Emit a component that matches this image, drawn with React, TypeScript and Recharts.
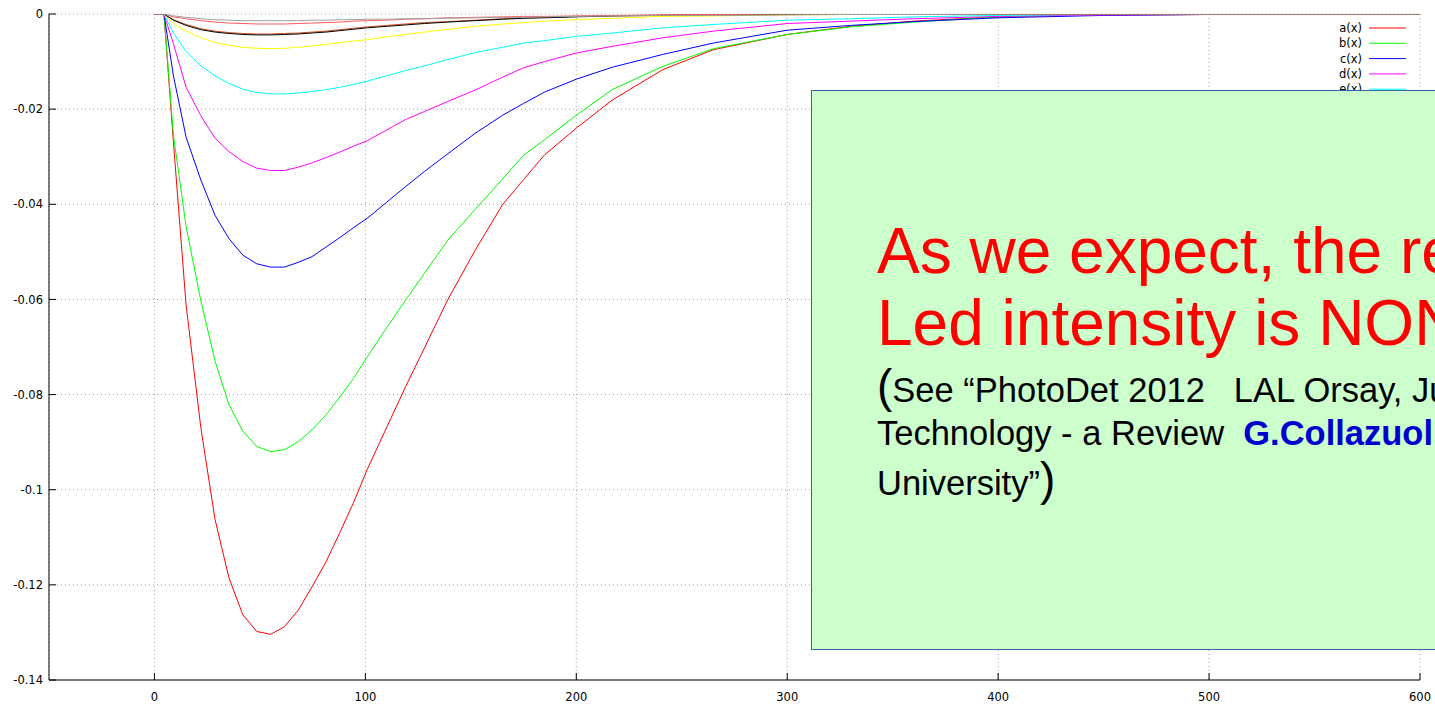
import React from 'react';
import { LineChart, Line, XAxis, YAxis, CartesianGrid } from 'recharts';

const W = 1435;
const H = 705;

// sample abscissae shared by every curve
const xs = [0, 4.5, 9, 15, 22, 28.7, 35.3, 41.9, 48.5, 55, 61.6, 68.2, 74.7, 81.3, 87.9, 94.4, 101, 110, 119, 128, 139, 152, 165, 175, 185, 200, 217, 241, 265, 300, 330, 360, 400, 450, 500, 550, 600];

const aVals = [0, 0, -0.027, -0.0612, -0.087, -0.1062, -0.1185, -0.1263, -0.1298, -0.1304, -0.1288, -0.1253, -0.1204, -0.1152, -0.109, -0.1027, -0.0956, -0.087, -0.0784, -0.0702, -0.0601, -0.0497, -0.0401, -0.0348, -0.0296, -0.024, -0.0181, -0.0117, -0.0075, -0.0043, -0.0026, -0.0015, -0.0006, -0.0002, -0.0001, 0, 0];
const bVals = [0, 0, -0.0255, -0.0447, -0.0603, -0.0729, -0.0821, -0.0877, -0.0909, -0.092, -0.0916, -0.0899, -0.0874, -0.0843, -0.0805, -0.0766, -0.072, -0.066, -0.0602, -0.0545, -0.0476, -0.0411, -0.0347, -0.0297, -0.0264, -0.0213, -0.0159, -0.011, -0.0073, -0.0043, -0.0027, -0.0017, -0.0006, -0.0002, -0.0001, 0, 0];
const cVals = [0, 0, -0.013, -0.0259, -0.0349, -0.0423, -0.0472, -0.0507, -0.0525, -0.0532, -0.0532, -0.0522, -0.051, -0.049, -0.047, -0.0449, -0.0429, -0.0396, -0.0363, -0.0331, -0.0294, -0.0251, -0.0213, -0.0188, -0.0164, -0.0137, -0.0112, -0.0085, -0.0061, -0.0034, -0.0024, -0.0016, -0.0008, -0.0003, -0.0001, 0, 0];
const dVals = [0, 0, -0.0063, -0.0154, -0.0214, -0.0261, -0.0289, -0.031, -0.0324, -0.0329, -0.0329, -0.0322, -0.0313, -0.0302, -0.029, -0.0278, -0.0266, -0.0244, -0.0222, -0.0205, -0.0184, -0.016, -0.0133, -0.0113, -0.01, -0.0082, -0.0068, -0.005, -0.0036, -0.002, -0.0015, -0.001, -0.0005, -0.0002, -0.0001, 0, 0];
const eVals = [0, 0, -0.004, -0.0079, -0.0109, -0.013, -0.0146, -0.0158, -0.0165, -0.0168, -0.0168, -0.0166, -0.0163, -0.0159, -0.0154, -0.0148, -0.0141, -0.013, -0.0119, -0.0109, -0.0096, -0.0081, -0.007, -0.0061, -0.0056, -0.0047, -0.004, -0.0029, -0.0022, -0.0013, -0.001, -0.0006, -0.0003, -0.0001, 0, 0, 0];
const fVals = [0, 0, -0.002, -0.0036, -0.005, -0.006, -0.0066, -0.007, -0.0072, -0.0073, -0.0072, -0.007, -0.0067, -0.0064, -0.006, -0.0057, -0.0054, -0.0048, -0.0043, -0.0038, -0.0032, -0.0026, -0.0021, -0.0018, -0.0015, -0.0012, -0.0009, -0.0005, -0.0004, -0.0002, -0.0001, 0, 0, 0, 0, 0, 0];
const gVals = [0, 0, -0.0012, -0.0022, -0.0031, -0.0036, -0.0039, -0.0041, -0.0042, -0.0042, -0.0041, -0.004, -0.0038, -0.0036, -0.0033, -0.003, -0.0027, -0.0024, -0.0021, -0.0018, -0.0016, -0.0013, -0.001, -0.0008, -0.0007, -0.0005, -0.0004, -0.0002, -0.0001, 0, 0, 0, 0, 0, 0, 0, 0];
const hVals = [0, 0, -0.0013, -0.0024, -0.0033, -0.0038, -0.0041, -0.0043, -0.0044, -0.0044, -0.0043, -0.0042, -0.004, -0.0038, -0.0035, -0.0032, -0.0029, -0.0026, -0.0023, -0.002, -0.0017, -0.0014, -0.0011, -0.0009, -0.0008, -0.0006, -0.0004, -0.0003, -0.0002, -0.0001, 0, 0, 0, 0, 0, 0, 0];
const iVals = [0, 0, -0.0006, -0.001, -0.0014, -0.0017, -0.0019, -0.002, -0.0021, -0.0021, -0.0021, -0.002, -0.0019, -0.0018, -0.0017, -0.0015, -0.0014, -0.0013, -0.0011, -0.001, -0.0008, -0.0007, -0.0006, -0.0005, -0.0005, -0.0004, -0.0003, -0.0002, -0.0001, 0, 0, 0, 0, 0, 0, 0, 0];
const jVals = [0, 0, -0.0004, -0.0007, -0.001, -0.0012, -0.0013, -0.0014, -0.0014, -0.0014, -0.0014, -0.0014, -0.0013, -0.0013, -0.0012, -0.0012, -0.0011, -0.0011, -0.001, -0.001, -0.0009, -0.0008, -0.0007, -0.0007, -0.0006, -0.0005, -0.0004, -0.0003, -0.0003, -0.0002, -0.0001, -0.0001, 0, 0, 0, 0, 0];

const xTicks = [0, 100, 200, 300, 400, 500, 600];
const yTicks = [-0.14, -0.12, -0.1, -0.08, -0.06, -0.04, -0.02, 0];

const series = [
  { key: 'a', name: 'a(x)', color: '#ff0000', values: aVals },
  { key: 'b', name: 'b(x)', color: '#00ff00', values: bVals },
  { key: 'c', name: 'c(x)', color: '#0000ff', values: cVals },
  { key: 'd', name: 'd(x)', color: '#ff00ff', values: dVals },
  { key: 'e', name: 'e(x)', color: '#00ffff', values: eVals },
  { key: 'f', name: 'f(x)', color: '#ffff00', values: fVals },
  { key: 'g', name: 'g(x)', color: '#d2501e', values: gVals },
  { key: 'h', name: 'h(x)', color: '#000000', values: hVals },
  { key: 'i', name: 'i(x)', color: '#ff5a5a', values: iVals },
  { key: 'j', name: 'j(x)', color: '#a0a0a0', values: jVals },
];

const rows = xs.map((x, i) => {
  const row: Record<string, number> = { x };
  series.forEach((s) => {
    row[s.key] = s.values[i];
  });
  return row;
});

const tickFont = { fontSize: 11.5, fill: '#000', fontFamily: 'DejaVu Sans' };
const boxFont = 'Liberation Sans';

function KeyBox() {
  return (
    <g fontFamily="DejaVu Sans" fontSize={11.5}>
      {series.map((s, i) => {
        const cy = 28 + i * 15.3;
        return (
          <g key={s.key}>
            <text x={1362} y={cy + 4} textAnchor="end" fill="#000">{s.name}</text>
            <line x1={1369} x2={1406} y1={cy} y2={cy} stroke={s.color} strokeWidth={1} />
          </g>
        );
      })}
    </g>
  );
}

function NoteBox() {
  return (
    <g fontFamily={boxFont}>
      <rect x={811.5} y={90.5} width={700} height={559} fill="#ccffcc" stroke="#3465a4" strokeWidth={1} />
      <text x={877} y={273} fill="#ff0000" fontSize={64} style={{ whiteSpace: 'pre' }}>As we expect, the response vs</text>
      <text x={877} y={345} fill="#ff0000" fontSize={64} style={{ whiteSpace: 'pre' }}>Led intensity is NON linear</text>
      <text x={877} y={402} fill="#000" style={{ whiteSpace: 'pre' }}>
        <tspan fontSize={46}>(</tspan>
        <tspan fontSize={34.5}>See “PhotoDet 2012   LAL Orsay, June 2012</tspan>
      </text>
      <text x={877} y={445} fill="#000" fontSize={34.5} style={{ whiteSpace: 'pre' }}>
        <tspan>Technology - a Review  </tspan>
        <tspan fill="#0000cc" fontWeight="bold">G.Collazuol</tspan>
        <tspan>  Padova</tspan>
      </text>
      <text x={877} y={495} fill="#000" style={{ whiteSpace: 'pre' }}>
        <tspan fontSize={34.5}>University”</tspan>
        <tspan fontSize={46}>)</tspan>
      </text>
    </g>
  );
}

export default function App() {
  return (
    <div style={{ position: 'fixed', left: 0, top: 0, width: W, height: H, overflow: 'hidden', background: '#fff' }}>
      <LineChart width={W} height={H} data={rows} margin={{ top: 14, right: 15, bottom: 0, left: 0 }}>
        <CartesianGrid stroke="#a0a0a0" strokeDasharray="1 3" />
        <XAxis
          dataKey="x"
          type="number"
          domain={[-50, 600]}
          ticks={xTicks}
          allowDataOverflow
          height={25}
          axisLine={{ stroke: '#000' }}
          tickLine={{ stroke: '#000' }}
          tickSize={-7}
          tickMargin={20}
          tick={tickFont}
          interval={0}
        />
        <XAxis
          xAxisId="top"
          orientation="top"
          dataKey="x"
          type="number"
          domain={[-50, 600]}
          ticks={xTicks}
          allowDataOverflow
          height={0}
          axisLine={{ stroke: '#000' }}
          tickLine={{ stroke: '#000' }}
          tickSize={-7}
          tick={false}
          interval={0}
        />
        <YAxis
          type="number"
          domain={[-0.14, 0]}
          ticks={yTicks}
          allowDataOverflow
          width={49}
          axisLine={{ stroke: '#000' }}
          tickLine={{ stroke: '#000' }}
          tickSize={-7}
          tickMargin={13}
          tick={tickFont}
          tickFormatter={(v: number) => String(v)}
          interval={0}
        />
        <YAxis
          yAxisId="right"
          orientation="right"
          type="number"
          domain={[-0.14, 0]}
          ticks={yTicks}
          allowDataOverflow
          width={0}
          axisLine={{ stroke: '#000' }}
          tickLine={{ stroke: '#000' }}
          tickSize={-7}
          tick={false}
          interval={0}
        />
        {series.map((s) => (
          <Line
            key={s.key}
            type="linear"
            dataKey={s.key}
            name={s.name}
            stroke={s.color}
            strokeWidth={1}
            dot={false}
            activeDot={false}
            isAnimationActive={false}
          />
        ))}
      </LineChart>
      <svg width={W} height={H} style={{ position: 'absolute', left: 0, top: 0, pointerEvents: 'none' }}>
        <KeyBox />
        <NoteBox />
      </svg>
    </div>
  );
}
